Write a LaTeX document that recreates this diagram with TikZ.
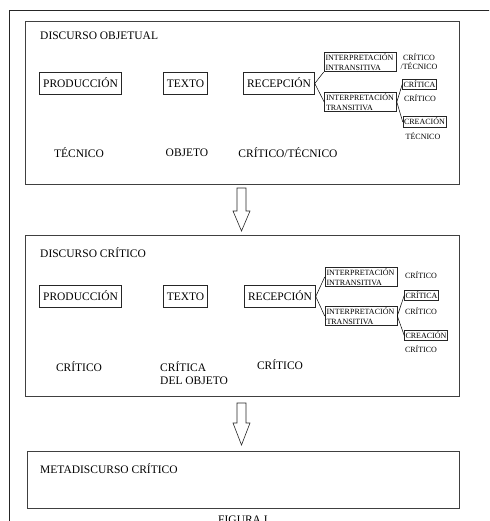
\documentclass[tikz,border=0pt]{standalone}
\usepackage{fontspec}
\setmainfont{Liberation Serif}
\usetikzlibrary{positioning}

\begin{document}
\begin{tikzpicture}[x=1pt, y=-1pt]
	\tikzstyle{Level} = [rectangle, draw=black!75, line width=0.9pt, inner sep=0pt]
	\tikzstyle{Box} = [rectangle, draw=black!85, line width=0.6pt, font=\fontsize{11.5}{13}\selectfont, text height=7.6pt, text depth=0pt, inner xsep=3.5pt, minimum height=22pt]
	\tikzstyle{SubBox} = [rectangle, draw=black!85, line width=0.6pt, font=\fontsize{8}{9.5}\selectfont, align=left, text width=69pt, inner xsep=1.5pt, inner ysep=1.5pt]
	\tikzstyle{Leaf} = [rectangle, draw=black!85, line width=0.6pt, font=\fontsize{8}{9.5}\selectfont, text height=5.5pt, text depth=0pt, inner xsep=1pt, inner ysep=2.5pt]
	\tikzstyle{Label} = [font=\fontsize{11.5}{13}\selectfont, inner sep=0pt]
	\tikzstyle{Tag} = [font=\fontsize{8}{9}\selectfont, align=center, inner sep=0pt]
	\tikzstyle{link} = [line width=0.5pt]
	\tikzstyle{hollow} = [draw=black!85, line width=0.6pt, fill=white, line join=miter]
	
	\useasboundingbox (0,0) rectangle (489,521);
	\clip (0,0) rectangle (489,521);
	
	% outer frame
	\draw [line width=1.3pt, black!85] (9.5,530) -- (9.5,10.5) -- (500,10.5);
	
	% discurso objetual
	\node (obj) [Level, minimum width=434pt, minimum height=163pt] at (242,102.5) {};
	\node (objT) [Label, anchor=base west] at (40,40) {DISCURSO OBJETUAL};
	\node (prod1) [Box] at (80.5,83.5) {PRODUCCIÓN};
	\node (text1) [Box] at (185.5,83.5) {TEXTO};
	\node (rec1) [Box] at (279,83.5) {RECEPCIÓN};
	\node (intr1) [SubBox] at (360,62) {INTERPRETACIÓN\\INTRANSITIVA};
	\node (trans1) [SubBox] at (360.5,102) {INTERPRETACIÓN\\TRANSITIVA};
	\node (crit1) [Leaf] at (419.5,84.5) {CRÍTICA};
	\node (crea1) [Leaf] at (424.5,122) {CREACIÓN};
	\node (t11) [Tag] at (419,62) {CRÍTICO\\/TÉCNICO};
	\node (t12) [Tag] at (420,98) {CRÍTICO};
	\node (t13) [Tag] at (423,136) {TÉCNICO};
	\node (b11) [Label] at (79,153) {TÉCNICO};
	\node (b12) [Label] at (187,153) {OBJETO};
	\node (b13) [Label] at (288,153) {CRÍTICO/TÉCNICO};
	
	\draw [link] (rec1.east) -- (intr1.south west);
	\draw [link] (rec1.east) -- (trans1.west);
	\draw [link] (trans1.east) -- (crit1.west);
	\draw [link] (trans1.east) -- (crea1.west);
	
	\draw [hollow] (237,188) -- (246,188) -- (246,211) -- (250,211) -- (241.5,231) -- (233,211) -- (237,211) -- cycle;
	
	% discurso critico
	\node (cri) [Level, minimum width=434pt, minimum height=161pt] at (242,315.5) {};
	\node (criT) [Label, anchor=base west] at (40,257) {DISCURSO CRÍTICO};
	\node (prod2) [Box] at (80.5,296.5) {PRODUCCIÓN};
	\node (text2) [Box] at (185.5,296.5) {TEXTO};
	\node (rec2) [Box] at (280,296.5) {RECEPCIÓN};
	\node (intr2) [SubBox] at (361,277) {INTERPRETACIÓN\\INTRANSITIVA};
	\node (trans2) [SubBox] at (361,316) {INTERPRETACIÓN\\TRANSITIVA};
	\node (crit2) [Leaf] at (421.5,295.5) {CRÍTICA};
	\node (crea2) [Leaf] at (426,335.5) {CREACIÓN};
	\node (t21) [Tag] at (421,275) {CRÍTICO};
	\node (t22) [Tag] at (421,311) {CRÍTICO};
	\node (t23) [Tag] at (421,349) {CRÍTICO};
	\node (b21) [Label] at (79,367) {CRÍTICO};
	\node (b22) [Label, align=left, anchor=west] at (160,373) {CRÍTICA\\DEL OBJETO};
	\node (b23) [Label] at (280,365) {CRÍTICO};
	
	\draw [link] (rec2.east) -- (intr2.west);
	\draw [link] (rec2.east) -- (trans2.west);
	\draw [link] (trans2.east) -- (crit2.west);
	\draw [link] (trans2.east) -- (crea2.west);
	
	\draw [hollow] (237,403) -- (246,403) -- (246,423) -- (250,423) -- (241.5,445) -- (233,423) -- (237,423) -- cycle;
	
	% metadiscurso
	\node (meta) [Level, minimum width=432pt, minimum height=57pt] at (243,479.5) {};
	\node (metaT) [Label, anchor=base west] at (40,473) {METADISCURSO CRÍTICO};
	
	\node (fig) [Label, anchor=base] at (243,523) {FIGURA I};
\end{tikzpicture}
\end{document}
